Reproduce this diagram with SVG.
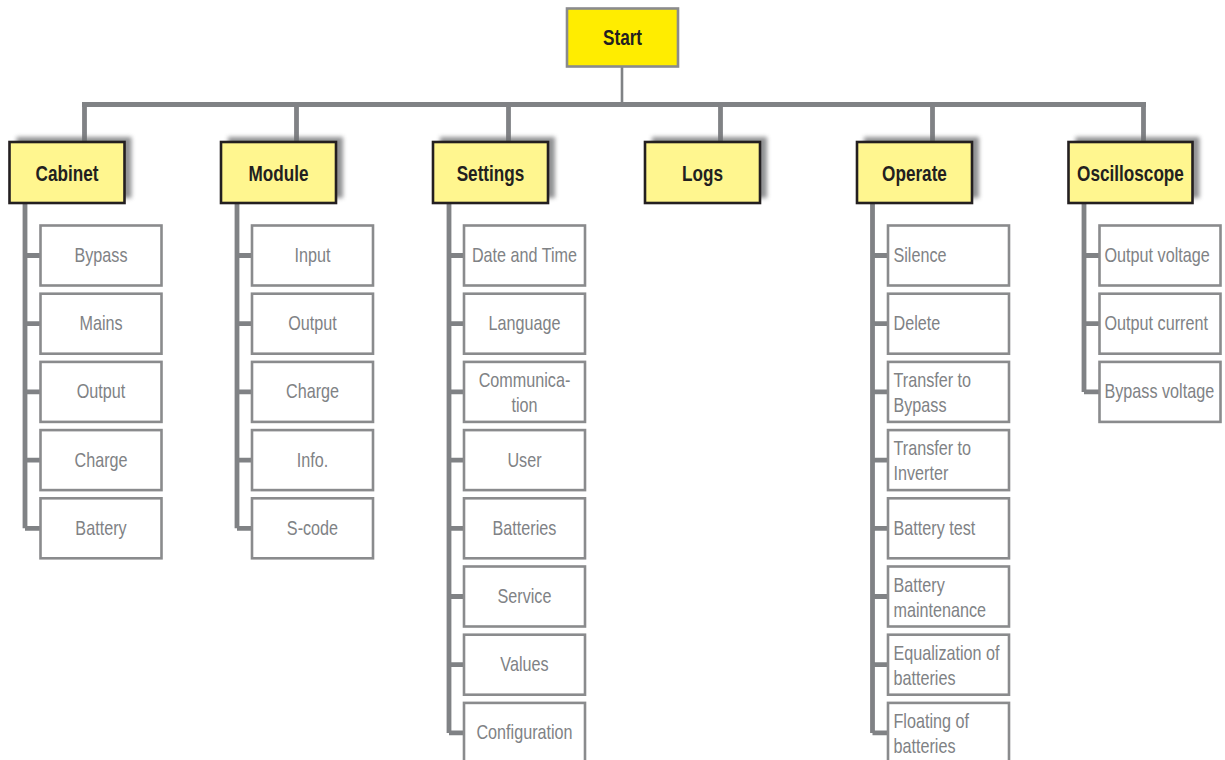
<svg xmlns="http://www.w3.org/2000/svg" width="1225" height="760" viewBox="0 0 1225 760">
<style>
.hdr{fill:#fff68f;stroke:#231f20;stroke-width:2.6}
.shd{fill:#6d6e71;opacity:0.75;filter:url(#blur)}
.start{fill:#ffed00;stroke:#8a8b8d;stroke-width:2.6}
.child{fill:#fff;stroke:#8a8b8d;stroke-width:2.6}
.ht{font-family:"Liberation Sans",Arial,sans-serif;font-weight:bold;font-size:22px;fill:#231f20;text-anchor:middle;transform-box:fill-box;transform-origin:center;transform:scaleX(0.78)}
.ct{font-family:"Liberation Sans",Arial,sans-serif;font-size:19.5px;fill:#808285;transform-box:fill-box}
.c{text-anchor:middle;transform-origin:center;transform:scaleX(0.83)}
.l{text-anchor:start;transform-origin:left center;transform:scaleX(0.83)}
.con{stroke:#808285;fill:none;stroke-width:4.8}
</style>
<defs>
<filter id="blur" x="-20%" y="-20%" width="140%" height="140%"><feGaussianBlur stdDeviation="2"/></filter>
</defs>
<rect width="1225" height="760" fill="#fff"/>
<g id="connectors">
<line class="con" x1="622" y1="66" x2="622" y2="104.5" style="stroke-width:2.6"/>
<line class="con" x1="82" y1="104.5" x2="1146" y2="104.5"/>
<path class="con" d="M84.5 104.5V142M296.5 104.5V142M508.5 104.5V142M720.5 104.5V142M932.5 104.5V142M1143.5 104.5V142"/>
<path class="con" d="M25 203V528.3M25 255.5H40.5M25 323.7H40.5M25 391.9H40.5M25 460.1H40.5M25 528.3H40.5"/>
<path class="con" d="M237 203V528.3M237 255.5H252M237 323.7H252M237 391.9H252M237 460.1H252M237 528.3H252"/>
<path class="con" d="M449 203V732.9M449 255.5H464M449 323.7H464M449 391.9H464M449 460.1H464M449 528.3H464M449 596.5H464M449 664.7H464M449 732.9H464"/>
<path class="con" d="M872.5 203V732.9M872.5 255.5H888M872.5 323.7H888M872.5 391.9H888M872.5 460.1H888M872.5 528.3H888M872.5 596.5H888M872.5 664.7H888M872.5 732.9H888"/>
<path class="con" d="M1084 203V391.9M1084 255.5H1099.5M1084 323.7H1099.5M1084 391.9H1099.5"/>
</g>
<g id="start"><rect class="start" x="567" y="8.5" width="111" height="58"/><text class="ht" x="622.5" y="45.5">Start</text></g>
<g id="cabinet"><rect class="shd" x="16.5" y="137" width="115" height="61"/><rect class="hdr" x="9.5" y="142" width="115" height="61"/><text class="ht" x="67" y="181">Cabinet</text></g>
<g id="module"><rect class="shd" x="228" y="137" width="115" height="61"/><rect class="hdr" x="221" y="142" width="115" height="61"/><text class="ht" x="278.5" y="181">Module</text></g>
<g id="settings"><rect class="shd" x="440" y="137" width="115" height="61"/><rect class="hdr" x="433" y="142" width="115" height="61"/><text class="ht" x="490.5" y="181">Settings</text></g>
<g id="logs"><rect class="shd" x="652" y="137" width="115" height="61"/><rect class="hdr" x="645" y="142" width="115" height="61"/><text class="ht" x="702.5" y="181">Logs</text></g>
<g id="operate"><rect class="shd" x="864" y="137" width="115" height="61"/><rect class="hdr" x="857" y="142" width="115" height="61"/><text class="ht" x="914.5" y="181">Operate</text></g>
<g id="oscilloscope"><rect class="shd" x="1075.5" y="137" width="124" height="61"/><rect class="hdr" x="1068.5" y="142" width="124" height="61"/><text class="ht" x="1130.5" y="181">Oscilloscope</text></g>
<g id="cabinet-children">
<g id="cab-bypass"><rect class="child" x="40.5" y="225.5" width="121" height="60"/><text class="ct c" x="101" y="262">Bypass</text></g>
<g id="cab-mains"><rect class="child" x="40.5" y="293.7" width="121" height="60"/><text class="ct c" x="101" y="330.2">Mains</text></g>
<g id="cab-output"><rect class="child" x="40.5" y="361.9" width="121" height="60"/><text class="ct c" x="101" y="398.4">Output</text></g>
<g id="cab-charge"><rect class="child" x="40.5" y="430.1" width="121" height="60"/><text class="ct c" x="101" y="466.6">Charge</text></g>
<g id="cab-battery"><rect class="child" x="40.5" y="498.3" width="121" height="60"/><text class="ct c" x="101" y="534.8">Battery</text></g>
</g>
<g id="module-children">
<g id="mod-input"><rect class="child" x="252" y="225.5" width="121" height="60"/><text class="ct c" x="312.5" y="262">Input</text></g>
<g id="mod-output"><rect class="child" x="252" y="293.7" width="121" height="60"/><text class="ct c" x="312.5" y="330.2">Output</text></g>
<g id="mod-charge"><rect class="child" x="252" y="361.9" width="121" height="60"/><text class="ct c" x="312.5" y="398.4">Charge</text></g>
<g id="mod-info"><rect class="child" x="252" y="430.1" width="121" height="60"/><text class="ct c" x="312.5" y="466.6">Info.</text></g>
<g id="mod-scode"><rect class="child" x="252" y="498.3" width="121" height="60"/><text class="ct c" x="312.5" y="534.8">S-code</text></g>
</g>
<g id="settings-children">
<g id="set-date"><rect class="child" x="464" y="225.5" width="121" height="60"/><text class="ct c" x="524.5" y="262">Date and Time</text></g>
<g id="set-language"><rect class="child" x="464" y="293.7" width="121" height="60"/><text class="ct c" x="524.5" y="330.2">Language</text></g>
<g id="set-comm"><rect class="child" x="464" y="361.9" width="121" height="60"/><text class="ct c" x="524.5" y="387.5">Communica-</text><text class="ct c" x="524.5" y="412">tion</text></g>
<g id="set-user"><rect class="child" x="464" y="430.1" width="121" height="60"/><text class="ct c" x="524.5" y="466.6">User</text></g>
<g id="set-batteries"><rect class="child" x="464" y="498.3" width="121" height="60"/><text class="ct c" x="524.5" y="534.8">Batteries</text></g>
<g id="set-service"><rect class="child" x="464" y="566.5" width="121" height="60"/><text class="ct c" x="524.5" y="603">Service</text></g>
<g id="set-values"><rect class="child" x="464" y="634.7" width="121" height="60"/><text class="ct c" x="524.5" y="671.2">Values</text></g>
<g id="set-config"><rect class="child" x="464" y="702.9" width="121" height="60"/><text class="ct c" x="524.5" y="739.4">Configuration</text></g>
</g>
<g id="operate-children">
<g id="op-silence"><rect class="child" x="888" y="225.5" width="121" height="60"/><text class="ct l" x="893.5" y="262">Silence</text></g>
<g id="op-delete"><rect class="child" x="888" y="293.7" width="121" height="60"/><text class="ct l" x="893.5" y="330.2">Delete</text></g>
<g id="op-bypass"><rect class="child" x="888" y="361.9" width="121" height="60"/><text class="ct l" x="893.5" y="387.3">Transfer to</text><text class="ct l" x="893.5" y="412">Bypass</text></g>
<g id="op-inverter"><rect class="child" x="888" y="430.1" width="121" height="60"/><text class="ct l" x="893.5" y="455.5">Transfer to</text><text class="ct l" x="893.5" y="480.2">Inverter</text></g>
<g id="op-battest"><rect class="child" x="888" y="498.3" width="121" height="60"/><text class="ct l" x="893.5" y="534.8">Battery test</text></g>
<g id="op-batmaint"><rect class="child" x="888" y="566.5" width="121" height="60"/><text class="ct l" x="893.5" y="591.9">Battery</text><text class="ct l" x="893.5" y="616.6">maintenance</text></g>
<g id="op-equal"><rect class="child" x="888" y="634.7" width="121" height="60"/><text class="ct l" x="893.5" y="660.1">Equalization of</text><text class="ct l" x="893.5" y="684.8">batteries</text></g>
<g id="op-float"><rect class="child" x="888" y="702.9" width="121" height="60"/><text class="ct l" x="893.5" y="728.3">Floating of</text><text class="ct l" x="893.5" y="753">batteries</text></g>
</g>
<g id="oscilloscope-children">
<g id="osc-volt"><rect class="child" x="1099.5" y="225.5" width="121" height="60"/><text class="ct l" x="1104.5" y="262">Output voltage</text></g>
<g id="osc-curr"><rect class="child" x="1099.5" y="293.7" width="121" height="60"/><text class="ct l" x="1104.5" y="330.2">Output current</text></g>
<g id="osc-byp"><rect class="child" x="1099.5" y="361.9" width="121" height="60"/><text class="ct l" x="1104.5" y="398.4">Bypass voltage</text></g>
</g>
</svg>
